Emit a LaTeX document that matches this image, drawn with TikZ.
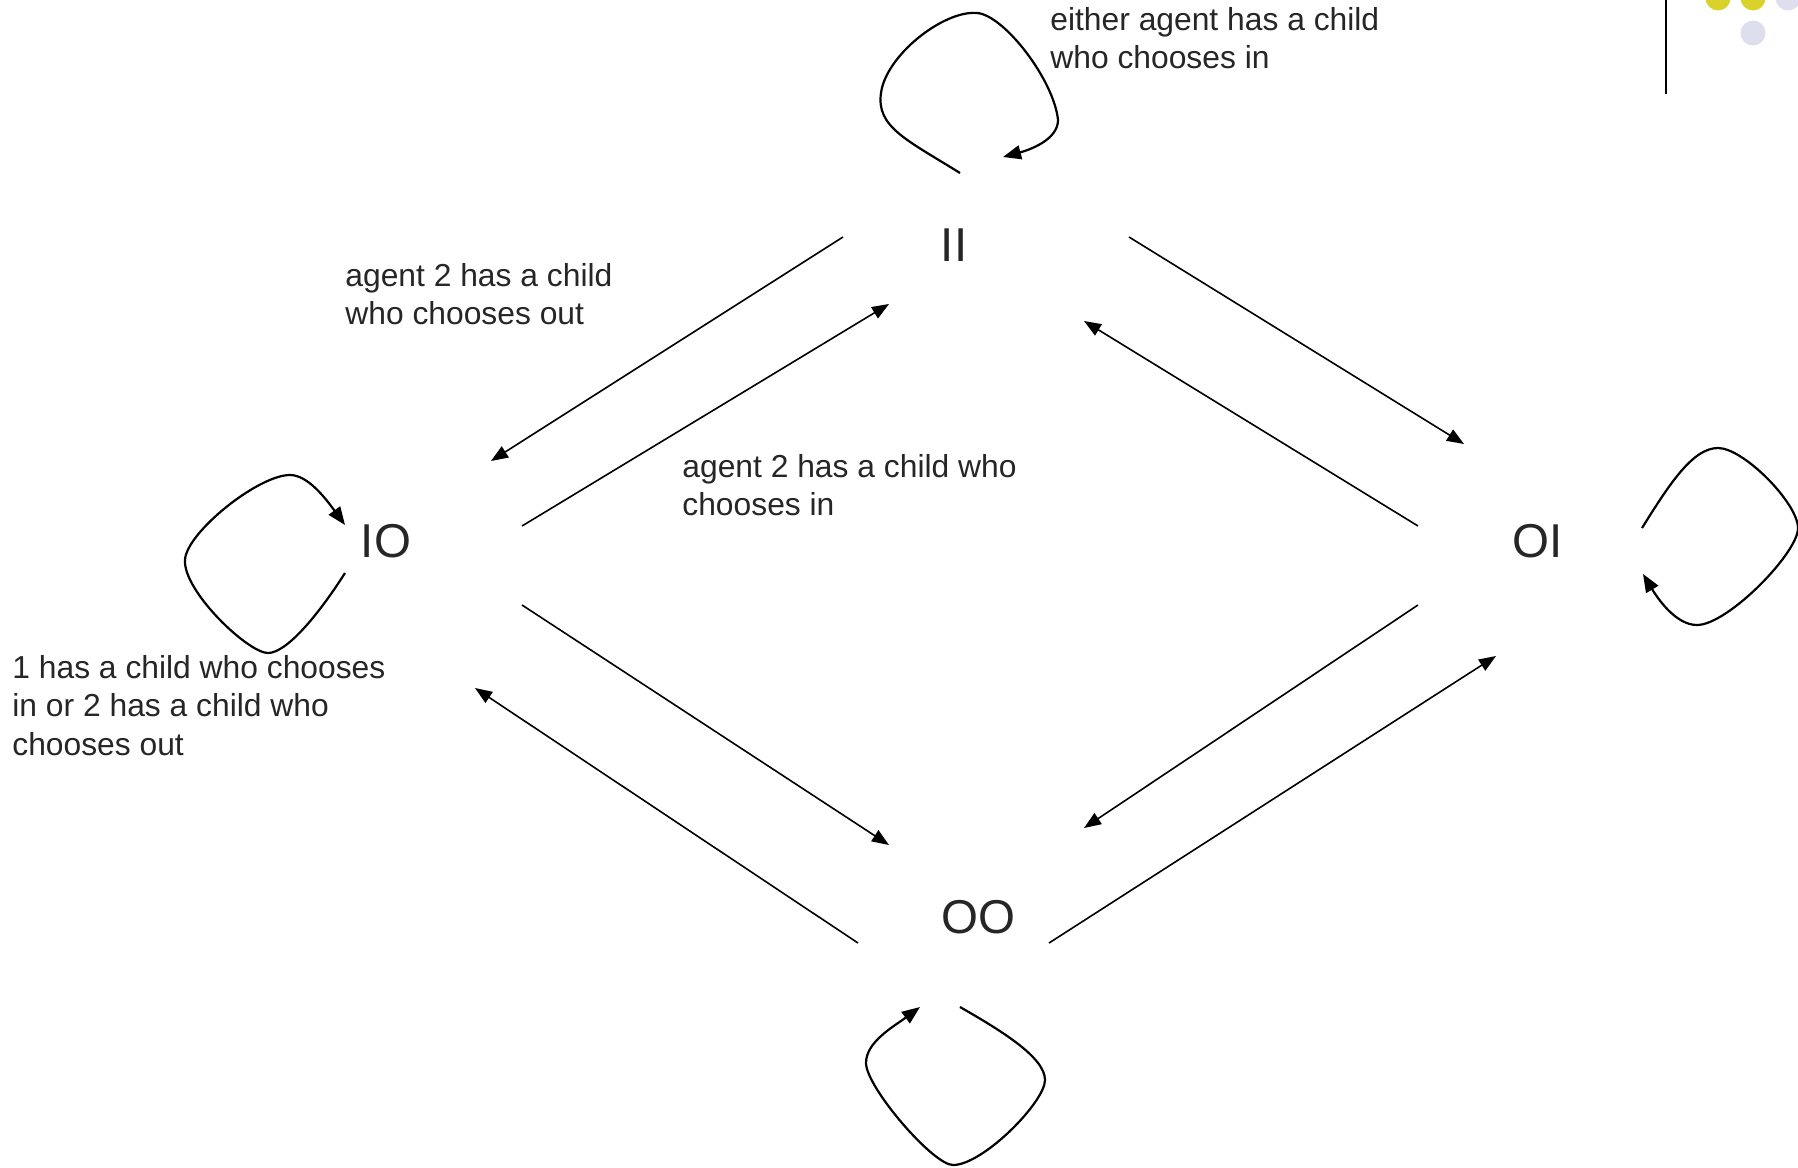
\documentclass[tikz,border=0pt]{standalone}
\usepackage{fontspec}
\setmainfont{Liberation Sans}
\usepackage{tikz}
\usetikzlibrary{arrows.meta, calc}

\definecolor{inkgray}{HTML}{262626}
\definecolor{dotyellow}{HTML}{D9D22B}
\definecolor{dotlilac}{HTML}{DDDEEE}

\begin{document}
\begin{tikzpicture}[
    x=0.5pt, y=-0.5pt,
    statelabel/.style={inner sep=0pt, text=inkgray, font=\fontsize{23.75}{28}\selectfont},
    note/.style={inner sep=0pt, anchor=north west, align=left, text=inkgray, font=\fontsize{15.9}{19.2}\selectfont},
    trans/.style={-{Triangle[length=8.5pt, width=6.5pt]}, line width=0.8pt},
    selfloop/.style={-{Triangle[length=9pt, width=7pt]}, line width=1.1pt}
  ]
  \useasboundingbox (0,0) rectangle (1798,1167);

  % slide decoration, top right corner
  \draw[line width=1.4pt] (1666,0) -- (1666,94);
  \fill[dotyellow] (1718,-2) circle (12.5) (1753,-2) circle (12.5);
  \fill[dotlilac] (1788,-2) circle (12.5) (1753,33) circle (12.5);

  % states: first letter = agent 1, second letter = agent 2
  \node[statelabel] (II) at (954,245) {II};
  \node[statelabel] (IO) at (386,541) {IO};
  \node[statelabel] (OI) at (1538,541) {OI};
  \node[statelabel] (OO) at (978,917) {OO};

  % transitions between states
  \draw[trans] ($(II)+(-111,-8)$) -- ($(IO)+(105,-80)$);
  \draw[trans] ($(IO)+(136,-15)$) -- ($(II)+(-65,59)$);
  \draw[trans] ($(II)+(175,-8)$) -- ($(OI)+(-74,-97)$);
  \draw[trans] ($(OI)+(-120,-15)$) -- ($(II)+(130,76)$);
  \draw[trans] ($(IO)+(136,64)$) -- ($(OO)+(-89,-72)$);
  \draw[trans] ($(OO)+(-120,26)$) -- ($(IO)+(89,147)$);
  \draw[trans] ($(OI)+(-120,64)$) -- ($(OO)+(106,-89)$);
  \draw[trans] ($(OO)+(71,26)$) -- ($(OI)+(-42,115)$);

  % self loops
  \begin{scope}[shift={(II)}]
    \draw[selfloop] (6,-72) .. controls (-47,-105) and (-78,-118) .. (-73,-152)
      .. controls (-68,-190) and (-10,-235) .. (23,-232)
      .. controls (50,-230) and (100,-165) .. (104,-125)
      .. controls (104,-105) and (75,-95) .. (49,-88);
  \end{scope}
  \begin{scope}[shift={(IO)}]
    \draw[selfloop] (-41,32) .. controls (-69,76) and (-100,112) .. (-118,112)
      .. controls (-138,112) and (-203,50) .. (-201,19)
      .. controls (-200,-8) and (-128,-66) .. (-96,-66)
      .. controls (-78,-66) and (-60,-42) .. (-41,-16);
  \end{scope}
  \begin{scope}[shift={(OI)}]
    \draw[selfloop] (104,-13) .. controls (132,-58) and (155,-93) .. (180,-93)
      .. controls (205,-93) and (258,-40) .. (260,-14)
      .. controls (262,10) and (190,84) .. (159,84)
      .. controls (138,84) and (120,58) .. (105,33);
  \end{scope}
  \begin{scope}[shift={(OO)}]
    \draw[selfloop] (-18,90) .. controls (22,113) and (67,140) .. (67,163)
      .. controls (67,185) and (5,248) .. (-25,248)
      .. controls (-45,248) and (-112,170) .. (-112,146)
      .. controls (-112,125) and (-85,110) .. (-58,90);
  \end{scope}

  % conditions
  \node[note] (cII) at (1050,7) {either agent has a child\\who chooses in};
  \node[note] (cout) at (345,263) {agent 2 has a child\\who chooses out};
  \node[note] (cin) at (682,454) {agent 2 has a child who\\chooses in};
  \node[note] (cIO) at (12,655) {1 has a child who chooses\\in or 2 has a child who\\chooses out};
\end{tikzpicture}
\end{document}
